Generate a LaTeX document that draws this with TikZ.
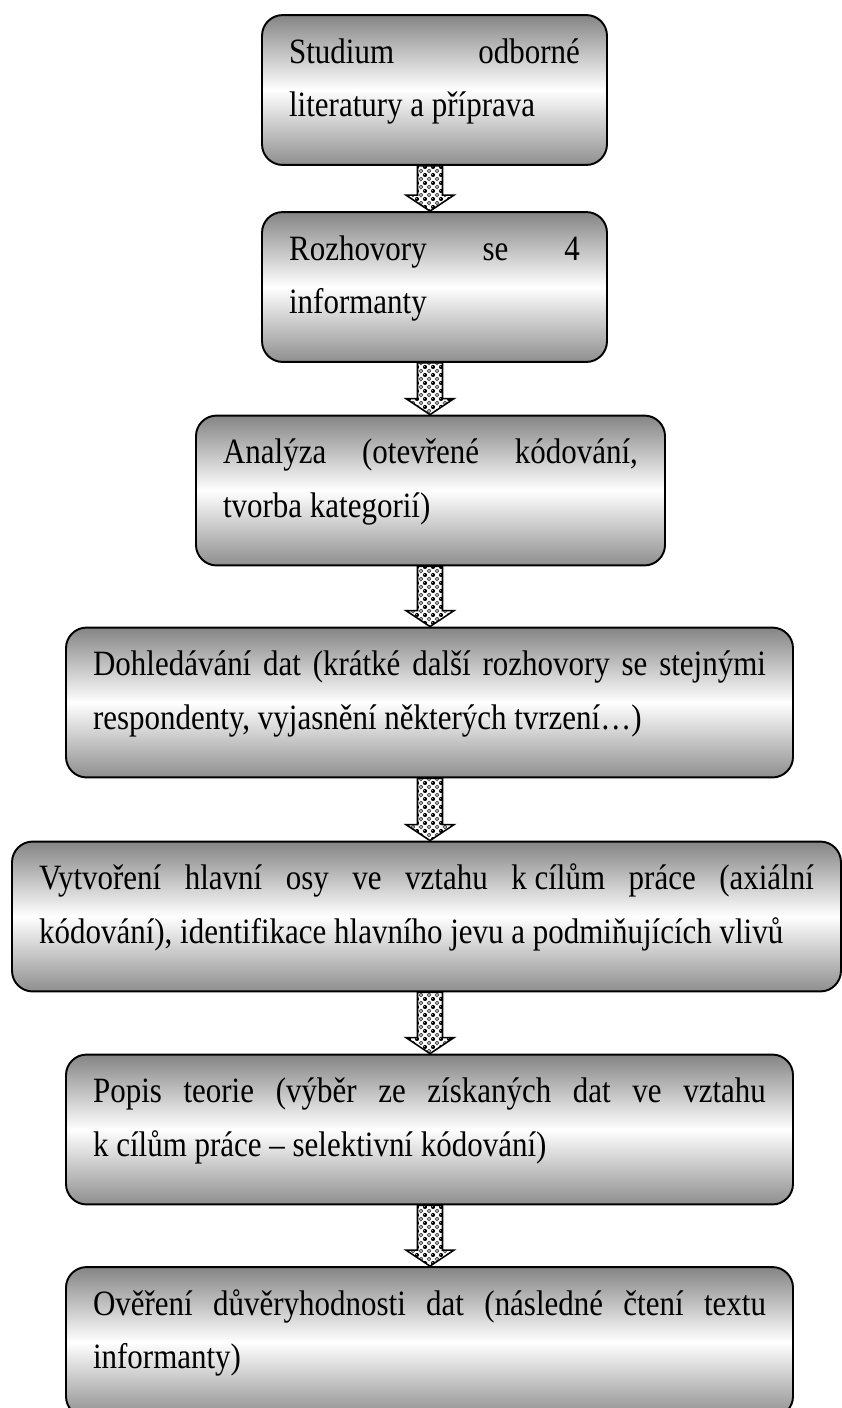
\documentclass[tikz,border=0pt]{standalone}
\usepackage{fontspec}
\setmainfont{Liberation Serif}[FakeStretch=0.87]
\usetikzlibrary{calc,patterns}
\pgfdeclarepatterninherentlycolored{spheres}{\pgfqpoint{0pt}{0pt}}{\pgfqpoint{3.1pt}{3.1pt}}{\pgfqpoint{3.1pt}{3.1pt}}{%
  \pgfsetfillcolor{white}
  \pgfpathrectangle{\pgfqpoint{0pt}{0pt}}{\pgfqpoint{3.1pt}{3.1pt}}\pgfusepath{fill}
  \pgfsetfillcolor{black}
  \pgfpathcircle{\pgfqpoint{0.78pt}{0.78pt}}{0.8pt}\pgfusepath{fill}
  \pgfsetfillcolor{black!35}
  \pgfpathcircle{\pgfqpoint{0.6pt}{0.95pt}}{0.25pt}\pgfusepath{fill}
  \pgfsetlinewidth{0.35pt}
  \pgfsetstrokecolor{black!70}
  \pgfpathcircle{\pgfqpoint{2.33pt}{2.33pt}}{0.72pt}\pgfusepath{stroke}
}
\tikzset{
  stagebox/.style={draw, line width=0.75pt, rounded corners=8pt,
    top color=black!48, bottom color=black!44, middle color=white,
    align=justify, inner xsep=10.5pt, inner ysep=5.6pt,
    font=\fontsize{13.8pt}{20.9pt}\selectfont,
    execute at begin node={\noindent\rule{0pt}{13pt}},
    execute at end node={\rule[-13pt]{0pt}{13pt}}},
  arrowbody/.style={draw, line width=0.6pt, pattern=spheres},
}
% sipka mezi dvema kroky
\newcommand{\flowarrow}[2]{%
  \path (#1.south -| axis) coordinate (ftop) (#2.north -| axis) coordinate (ftip);
  \draw[arrowbody] ($(ftop)+(-12.5,0)$) -- ($(ftip)+(-12.5,-16)$) -- ($(ftip)+(-24,-16)$)
    -- (ftip) -- ($(ftip)+(24,-16)$) -- ($(ftip)+(12.5,-16)$) -- ($(ftop)+(12.5,0)$) -- cycle;
}

\begin{document}
\begin{tikzpicture}[x=0.3876pt, y=-0.3876pt]
\useasboundingbox (0,0) rectangle (842,1408);
\coordinate (axis) at (430,0);

\node[stagebox, text width=112.7pt] (studium) at (434.5,90) {Studium odborné\linebreak literatury a příprava};
\node[stagebox, text width=112.7pt] (rozhovory) at (434.5,287) {Rozhovory se 4\linebreak informanty};
\node[stagebox, text width=160.8pt] (analyza) at (430.5,490.5) {Analýza (otevřené kódování,\linebreak tvorba kategorií)};
\node[stagebox, text width=260.8pt] (dohledavani) at (429.5,702.5) {Dohledávání dat (krátké další rozhovory se stejnými\linebreak respondenty, vyjasnění některých tvrzení…)};
\node[stagebox, text width=300.3pt] (osa) at (426.5,916.5) {Vytvoření hlavní osy ve vztahu \mbox{k cílům} práce (axiální\linebreak kódování), identifikace hlavního jevu a podmiňujících vlivů};
\node[stagebox, text width=260.8pt] (teorie) at (429.5,1129.5) {Popis teorie (výběr ze získaných dat ve vztahu\linebreak \mbox{k cílům} práce – selektivní kódování)};
\node[stagebox, text width=260.8pt] (overeni) at (429.5,1342) {Ověření důvěryhodnosti dat (následné čtení textu\linebreak informanty)};

% sipky
\flowarrow{studium}{rozhovory}
\flowarrow{rozhovory}{analyza}
\flowarrow{analyza}{dohledavani}
\flowarrow{dohledavani}{osa}
\flowarrow{osa}{teorie}
\flowarrow{teorie}{overeni}
\end{tikzpicture}
\end{document}
